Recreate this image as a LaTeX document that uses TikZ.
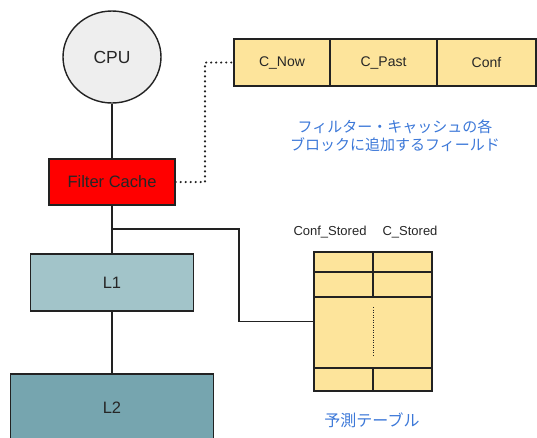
\documentclass[tikz,border=0pt]{standalone}
\usepackage{fontspec}
\setmainfont{Liberation Sans}
\newfontfamily\jpfont{Noto Sans CJK JP}
\usetikzlibrary{shapes.geometric}
\definecolor{cpufill}{HTML}{EEEEEE}
\definecolor{fieldfill}{HTML}{FDE49B}
\definecolor{lonefill}{HTML}{A2C4C9}
\definecolor{ltwofill}{HTML}{76A5AF}
\definecolor{jpblue}{HTML}{3C78D8}
\definecolor{edge}{HTML}{222222}
\definecolor{ink}{HTML}{262626}
\tikzset{
  box/.style={draw=edge, line width=1.4pt, rectangle, inner sep=0pt, text=ink, font=\fontsize{16.5}{19}\selectfont},
  field/.style={box, fill=fieldfill, font=\fontsize{14}{16}\selectfont},
  wire/.style={draw=edge, line width=1.6pt},
  dots/.style={draw=edge, line width=2.4pt, line cap=round, dash pattern=on 0pt off 5pt},
  lbl/.style={text=ink, font=\fontsize{13}{15}\selectfont, inner sep=0pt},
  jp/.style={text=jpblue, font=\jpfont\fontsize{15}{18}\selectfont, align=center, inner sep=0pt}
}
\begin{document}
\begin{tikzpicture}[x=1pt,y=-1pt]
\useasboundingbox (0,0) rectangle (537,437);
\clip (0,0) rectangle (537,437);
% hierarchy
\node[box, ellipse, fill=cpufill, minimum width=98pt, minimum height=92pt, font=\fontsize{17.5}{19}\selectfont] (cpu) at (112,57) {CPU};
\node[box, fill=red, minimum width=126pt, minimum height=46pt] (fc) at (112,182) {Filter Cache};
\node[box, fill=lonefill, minimum width=163pt, minimum height=57pt] (l1) at (112,282.5) {L1};
\node[box, fill=ltwofill, minimum width=203pt, minimum height=68pt] (l2) at (112,408) {L2};
\draw[wire] (cpu.south) -- (fc.north);
\coordinate (br) at (112,229);
\draw[wire] (fc.south) -- (l1.north);
\draw[wire] (l1.south) -- (l2.north);
% fields of a filter cache block
\node[field, minimum width=96pt, minimum height=47pt] (cnow) at (282,62.5) {C\_Now};
\node[field, minimum width=107pt, minimum height=47pt] (cpast) at (383.5,62.5) {C\_Past};
\node[field, minimum width=99pt, minimum height=47pt] (conf) at (486.5,62.5) {Conf};
\coordinate (d1) at (205,182);
\coordinate (d2) at (205,62.5);
\draw[dots] (fc.east) -- (d1) -- (d2) -- (cnow.west);
\node[jp] (jpfield) at (395,136) {フィルター・キャッシュの各\\ブロックに追加するフィールド};
% prediction table
\node[box, fill=fieldfill, minimum width=118pt, minimum height=139pt] (tbl) at (373,321.5) {};
\draw[wire] (tbl.west |- 0,272) -- (tbl.east |- 0,272);
\draw[wire] (tbl.west |- 0,297) -- (tbl.east |- 0,297);
\draw[wire] (tbl.west |- 0,368) -- (tbl.east |- 0,368);
\draw[wire] (tbl.north) -- (373,297);
\draw[wire] (373,368) -- (tbl.south);
\draw[draw=edge, line width=0.6pt, dash pattern=on 1.2pt off 1.3pt] (373,307) -- (373,356);
\node[lbl] (cstl) at (330,232) {Conf\_Stored};
\node[lbl] (cst) at (410,232) {C\_Stored};
\node[jp, font=\jpfont\fontsize{16}{18}\selectfont] (jptbl) at (372,420) {予測テーブル};
\coordinate (bend) at (239,229);
\draw[wire] (br) -- (bend) |- (tbl.west);
\end{tikzpicture}
\end{document}
